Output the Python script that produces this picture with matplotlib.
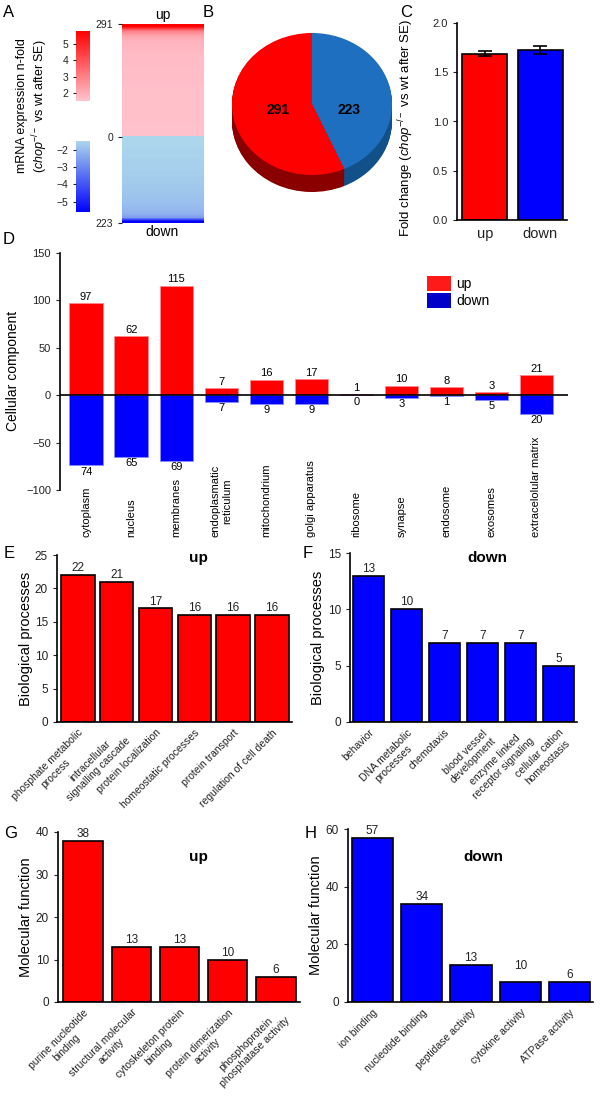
import matplotlib
matplotlib.use("Agg")
import matplotlib.pyplot as plt
import matplotlib.transforms as mtransforms
import numpy as np
from matplotlib.colors import LinearSegmentedColormap, Normalize
from matplotlib.cm import ScalarMappable
from matplotlib.patches import Patch, Wedge

plt.rcParams['font.family'] = ['Liberation Sans', 'DejaVu Sans']
plt.rcParams['mathtext.fontset'] = 'custom'
plt.rcParams['mathtext.rm'] = 'Liberation Sans'
plt.rcParams['mathtext.it'] = 'Liberation Sans:italic'
plt.rcParams['axes.linewidth'] = 1.2
plt.rcParams['xtick.color'] = '#222222'
plt.rcParams['ytick.color'] = '#222222'

# ---- data ----
n_up, n_down = 291, 223
# fold change of regulated genes, sorted (heatmap A), sampled along the column
up_fold = [5.8, 3.0, 2.2, 1.9, 1.8, 1.75, 1.7, 1.7, 1.7, 1.65, 1.65, 1.65,
           1.65, 1.6, 1.6, 1.6, 1.6, 1.6, 1.6, 1.6, 1.6, 1.55, 1.55, 1.55]
down_fold = [-1.5, -1.5, -1.5, -1.55, -1.55, -1.55, -1.6, -1.6, -1.6, -1.65, -1.65, -1.7,
             -1.7, -1.75, -1.8, -1.8, -1.85, -1.9, -1.95, -2.0, -2.1, -2.2, -2.6, -5.6]

pie_counts = [223, 291]

fold_groups = ["up", "down"]
fold_mean = [1.69, 1.73]
fold_sem = [0.03, 0.04]

cc_names = ["cytoplasm", "nucleus", "membranes", "endoplasmatic\nreticulum",
            "mitochondrium", "golgi apparatus", "ribosome", "synapse",
            "endosome", "exosomes", "extracelolular matrix"]
cc_up = [97, 62, 115, 7, 16, 17, 1, 10, 8, 3, 21]
cc_down = [74, 65, 69, 7, 9, 9, 0, 3, 1, 5, 20]

bp_up_names = ["phosphate metabolic\nprocess", "intracellular\nsignalling cascade",
               "protein localization", "homeostatic processes",
               "protein transport", "regulation of cell death"]
bp_up = [22, 21, 17, 16, 16, 16]

bp_down_names = ["behavior", "DNA metabolic\nprocesses", "chemotaxis",
                 "blood vessel\ndevelopment", "enzyme linked\nreceptor signaling",
                 "cellular cation\nhomeostasis"]
bp_down = [13, 10, 7, 7, 7, 5]

mf_up_names = ["purine nucleotide\nbinding", "structural molecular\nactivity",
               "cytoskeleton protein\nbinding", "protein dimerization\nactivity",
               "phosphoprotein\nphosphatase activity"]
mf_up = [38, 13, 13, 10, 6]

mf_down_names = ["ion binding", "nucleotide binding", "peptidase activity",
                 "cytokine activity", "ATPase activity"]
mf_down_bars = [57, 34, 13, 7, 7]
mf_down_labels = [57, 34, 13, 10, 6]

RED = '#ff0000'
BLUE = '#0000ff'

W, H = 600, 1102
fig = plt.figure(figsize=(6, 11.02), dpi=100)


def box(x0, y0, x1, y1):
    return fig.add_axes([x0 / W, 1 - y1 / H, (x1 - x0) / W, (y1 - y0) / H])


# ---- A: heatmap + colorbars ----
red_cmap = LinearSegmentedColormap.from_list('ups', ['#ffc4cf', '#ff0000'])
blue_cmap = LinearSegmentedColormap.from_list('downs', ['#0000ff', '#acd6ec'])
red_norm = Normalize(1.5, 5.8)
blue_norm = Normalize(-5.6, -1.5)

axA = box(122, 24, 203, 223)
axA.imshow(np.array(up_fold)[:, None], cmap=red_cmap, norm=red_norm, aspect='auto',
           extent=[0, 1, 0, n_up], interpolation='bilinear')
axA.imshow(np.array(down_fold)[:, None], cmap=blue_cmap, norm=blue_norm, aspect='auto',
           extent=[0, 1, -n_down, 0], interpolation='bilinear')
axA.set_xlim(0, 1)
axA.set_ylim(-n_down, n_up)
axA.set_yticks([n_up, 0, -n_down])
axA.set_yticklabels([str(n_up), "0", str(n_down)])
axA.set_xticks([])
axA.tick_params(axis='y', labelsize=7.5, length=3)
for s in axA.spines.values():
    s.set_visible(False)
axA.text(0.5, 1.01, "up", transform=axA.transAxes, ha='center', va='bottom', fontsize=10)
axA.text(0.5, -0.012, "down", transform=axA.transAxes, ha='center', va='top', fontsize=10)

cax1 = box(76, 31, 90, 101)
cb1 = fig.colorbar(ScalarMappable(norm=red_norm, cmap=red_cmap), cax=cax1)
cb1.set_ticks([2, 3, 4, 5])
cax2 = box(76, 141, 90, 212)
cb2 = fig.colorbar(ScalarMappable(norm=blue_norm, cmap=blue_cmap), cax=cax2)
cb2.set_ticks([-2, -3, -4, -5])
for cb in (cb1, cb2):
    cb.outline.set_visible(False)
    cb.ax.yaxis.set_ticks_position('left')
    cb.ax.tick_params(labelsize=7.5, length=2)

fig.text(33 / W, 1 - 106 / H,
         "mRNA expression n-fold\n($\\it{chop}^{-/-}$ vs wt after SE)",
         rotation=90, ha='center', va='center', fontsize=9, linespacing=1.2)

# ---- B: 3D-looking pie ----
axB = box(232, 33, 392, 192)
axB.set_xlim(-1, 1)
axB.set_ylim(-1.24, 1)
axB.axis('off')
top_cols = ['#1f6fc0', RED]
side_cols = ['#12508a', '#8a0000']
angles = np.cumsum([0] + pie_counts) / sum(pie_counts) * 360
for off in np.linspace(-0.24, -0.01, 24):
    for k in range(2):
        axB.add_patch(Wedge((0, off), 1, 90 - angles[k + 1], 90 - angles[k],
                            color=side_cols[k], lw=0))
for k in range(2):
    axB.add_patch(Wedge((0, 0), 1, 90 - angles[k + 1], 90 - angles[k],
                        color=top_cols[k], lw=0))
axB.text(-0.42, -0.08, str(pie_counts[1]), ha='center', va='center', fontsize=10, weight='bold')
axB.text(0.46, -0.08, str(pie_counts[0]), ha='center', va='center', fontsize=10, weight='bold')

# ---- C: mean fold change ----
axC = box(457, 23, 567, 220)
axC.bar([0, 1], fold_mean, width=0.81, color=[RED, BLUE], edgecolor='black', lw=1.2,
        yerr=fold_sem, capsize=5, error_kw=dict(elinewidth=1.2, capthick=1.2))
axC.set_xlim(-0.5, 1.48)
axC.set_ylim(0, 2.0)
axC.set_yticks([0, 0.5, 1.0, 1.5, 2.0])
axC.set_yticklabels(["0.0", "0.5", "1.0", "1.5", "2.0"])
axC.set_xticks([0, 1])
axC.set_xticklabels(fold_groups, fontsize=10.5)
axC.tick_params(axis='x', length=0, pad=5)
axC.tick_params(axis='y', labelsize=8, length=3)
axC.spines[['top', 'right']].set_visible(False)
axC.set_ylabel("Fold change ($\\it{chop}^{-/-}$ vs wt after SE)", fontsize=9.5)
axC.yaxis.set_label_coords(-0.373, 0.47)

# ---- D: cellular component ----
axD = box(60, 252.7, 568, 490)
xd = np.arange(len(cc_names))
axD.bar(xd, cc_up, width=0.74, color=RED, edgecolor='#ff8a8a', lw=0.6)
axD.bar(xd, -np.array(cc_down), width=0.74, color=BLUE, edgecolor='#8a8aff', lw=0.6)
axD.axhline(0, color='black', lw=1.2)
for i in range(len(cc_names)):
    axD.text(xd[i], cc_up[i] + 1.5, str(cc_up[i]), ha='center', va='bottom', fontsize=8)
    axD.text(xd[i], -cc_down[i] - 1.5, str(cc_down[i]), ha='center', va='top', fontsize=8)
trD = mtransforms.blended_transform_factory(axD.transData, axD.transAxes)
for i, name in enumerate(cc_names):
    axD.text(xd[i], -0.198, name, transform=trD, rotation=90, ha='center', va='bottom',
             fontsize=8, multialignment='center')
axD.set_xlim(-0.58, 10.7)
axD.set_ylim(-100, 150)
axD.set_yticks([-100, -50, 0, 50, 100, 150])
axD.set_xticks([])
axD.tick_params(axis='y', labelsize=8, length=3)
axD.spines[['top', 'right', 'bottom']].set_visible(False)
axD.set_ylabel("Cellular component", fontsize=10)
axD.yaxis.set_label_coords(-0.079, 0.5)
fig.legend(handles=[Patch(fc='#ff1a1a', ec='none'), Patch(fc='#0000c8', ec='none')],
           labels=["up", "down"], loc='upper left', bbox_to_anchor=(427 / W, 1 - 276 / H),
           frameon=False, handlelength=1.75, handleheight=1.25, labelspacing=0.15,
           handletextpad=0.35, fontsize=10, borderaxespad=0, borderpad=0)


# ---- E-H: GO bar charts ----
def go_panel(rect, names, heights, labels, color, yticks, width, xlim, ylabel, lab_x):
    ax = box(*rect)
    x = np.arange(len(names))
    ax.bar(x, heights, width=width, color=color, edgecolor='black', lw=1.2)
    for i in range(len(names)):
        ax.text(x[i], max(heights[i], labels[i]) + yticks[-1] * 0.005, str(labels[i]),
                ha='center', va='bottom', fontsize=8.5, color='#222222')
    ax.set_xlim(*xlim)
    ax.set_ylim(0, yticks[-1])
    ax.set_yticks(yticks)
    ax.set_xticks(x)
    ax.set_xticklabels(names, rotation=45, ha='right', rotation_mode='anchor',
                       fontsize=7.5, multialignment='center')
    ax.tick_params(axis='x', length=0, pad=4)
    ax.tick_params(axis='y', labelsize=8.5, length=3)
    ax.spines[['top', 'right']].set_visible(False)
    ax.set_ylabel(ylabel, fontsize=10.5)
    ax.yaxis.set_label_coords(lab_x, 0.5)
    return ax


go_panel((57, 555, 292, 722), bp_up_names, bp_up, bp_up, RED, [0, 5, 10, 15, 20, 25],
         0.86, (-0.54, 5.52), "Biological processes", -0.102)
go_panel((350, 553, 577, 722), bp_down_names, bp_down, bp_down, BLUE, [0, 5, 10, 15],
         0.83, (-0.49, 5.49), "Biological processes", -0.110)
go_panel((58, 832, 300, 1002), mf_up_names, mf_up, mf_up, RED, [0, 10, 20, 30, 40],
         0.82, (-0.52, 4.5), "Molecular function", -0.103)
go_panel((348, 829, 593, 1002), mf_down_names, mf_down_bars, mf_down_labels, BLUE,
         [0, 20, 40, 60], 0.84, (-0.5, 4.48), "Molecular function", -0.102)

fig.text(198 / W, 1 - 558 / H, "up", ha='center', va='center', fontsize=11, weight='bold')
fig.text(487 / W, 1 - 558 / H, "down", ha='center', va='center', fontsize=11, weight='bold')
fig.text(198 / W, 1 - 857 / H, "up", ha='center', va='center', fontsize=11, weight='bold')
fig.text(483 / W, 1 - 857 / H, "down", ha='center', va='center', fontsize=11, weight='bold')

# panel letters
for letter, px, py in [("A", 3, 5), ("B", 203, 5), ("C", 400, 5), ("D", 3, 232),
                       ("E", 4, 546), ("F", 303, 546), ("G", 4, 826), ("H", 305, 826)]:
    fig.text(px / W, 1 - py / H, letter, ha='left', va='top', fontsize=12)

fig.savefig("out.png", dpi=100)
